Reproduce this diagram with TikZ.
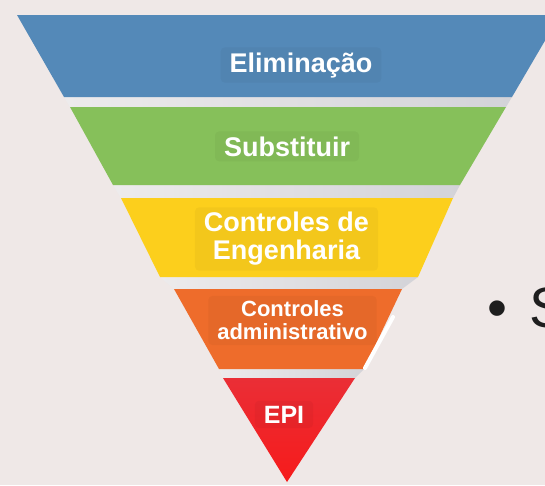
\documentclass[tikz,border=0pt]{standalone}
\usepackage{fontspec}
\setmainfont{Liberation Sans}
\usetikzlibrary{positioning}
\definecolor{pagebg}{HTML}{EFE8E7}
\definecolor{gapgrey}{HTML}{D3D3D8}
\definecolor{gapwhite}{HTML}{EDEBEC}
\definecolor{elimblue}{HTML}{5489B8}
\definecolor{substgreen}{HTML}{86C05A}
\definecolor{engyellow}{HTML}{FCCF1C}
\definecolor{admorange}{HTML}{EE6C2B}
\definecolor{epired}{HTML}{EA2E36}
\definecolor{epideep}{HTML}{F61B1B}
\definecolor{bullettext}{HTML}{1E1E1E}

\begin{document}
\begin{tikzpicture}[
x=1pt, y=-1pt,
every node/.style={text=white, font=\bfseries},
bandlabel/.style={fill=black, fill opacity=0.035, text opacity=1, rounded corners=4pt, inner xsep=9pt, inner ysep=5pt, align=center},
gapstrip/.style={left color=gapwhite, right color=gapgrey}
]
\useasboundingbox (0,0) rectangle (545,485);
\fill[pagebg] (0,0) rectangle (545,485);
\clip (0,0) rectangle (545,485);
% grey strips between the bands
\shade[gapstrip] (64,97) -- (512,97) -- (506,107) -- (70,107) -- cycle;
\shade[gapstrip] (113,185) -- (460,185) -- (453,198) -- (121,198) -- cycle;
\shade[gapstrip] (160,277) -- (418,277) -- (402,289) -- (174,289) -- cycle;
\shade[gapstrip] (219,369) -- (364,369) -- (355,378) -- (223,378) -- cycle;
% bands
\fill[elimblue] (17,15) -- (560,15) -- (512,97) -- (64,97) -- cycle;
\fill[substgreen] (70,107) -- (506,107) -- (460,185) -- (113,185) -- cycle;
\fill[engyellow] (121,198) -- (453,198) -- (418,277) -- (160,277) -- cycle;
\fill[admorange] (174,289) -- (402,289) -- (364,369) -- (219,369) -- cycle;
\shade[top color=epired, bottom color=epideep] (223,378) -- (355,378) -- (287,482) -- cycle;
\draw[white, line width=4pt, line cap=round] (393,317) -- (365,368);
% labels
\node[bandlabel, anchor=base, font=\bfseries\fontsize{27}{28}\selectfont] (elim) at (301,72) {Eliminação};
\node[bandlabel, anchor=base, font=\bfseries\fontsize{27}{28}\selectfont] (subst) at (287,156) {Substituir};
\node[bandlabel, anchor=center, font=\bfseries\fontsize{27}{28}\selectfont] (eng) at (286.5,239) {Controles de\\Engenharia};
\node[bandlabel, anchor=center, font=\bfseries\fontsize{22}{23}\selectfont] (adm) at (292.5,320.5) {Controles\\administrativo};
\node[bandlabel, anchor=base, font=\bfseries\fontsize{25}{26}\selectfont] (epi) at (284,423) {EPI};
\node[anchor=base west, inner sep=0, text=bullettext, font=\fontsize{57}{60}\selectfont] (point) at (487,327) {•\hspace{0.4em}S};
\end{tikzpicture}
\end{document}
